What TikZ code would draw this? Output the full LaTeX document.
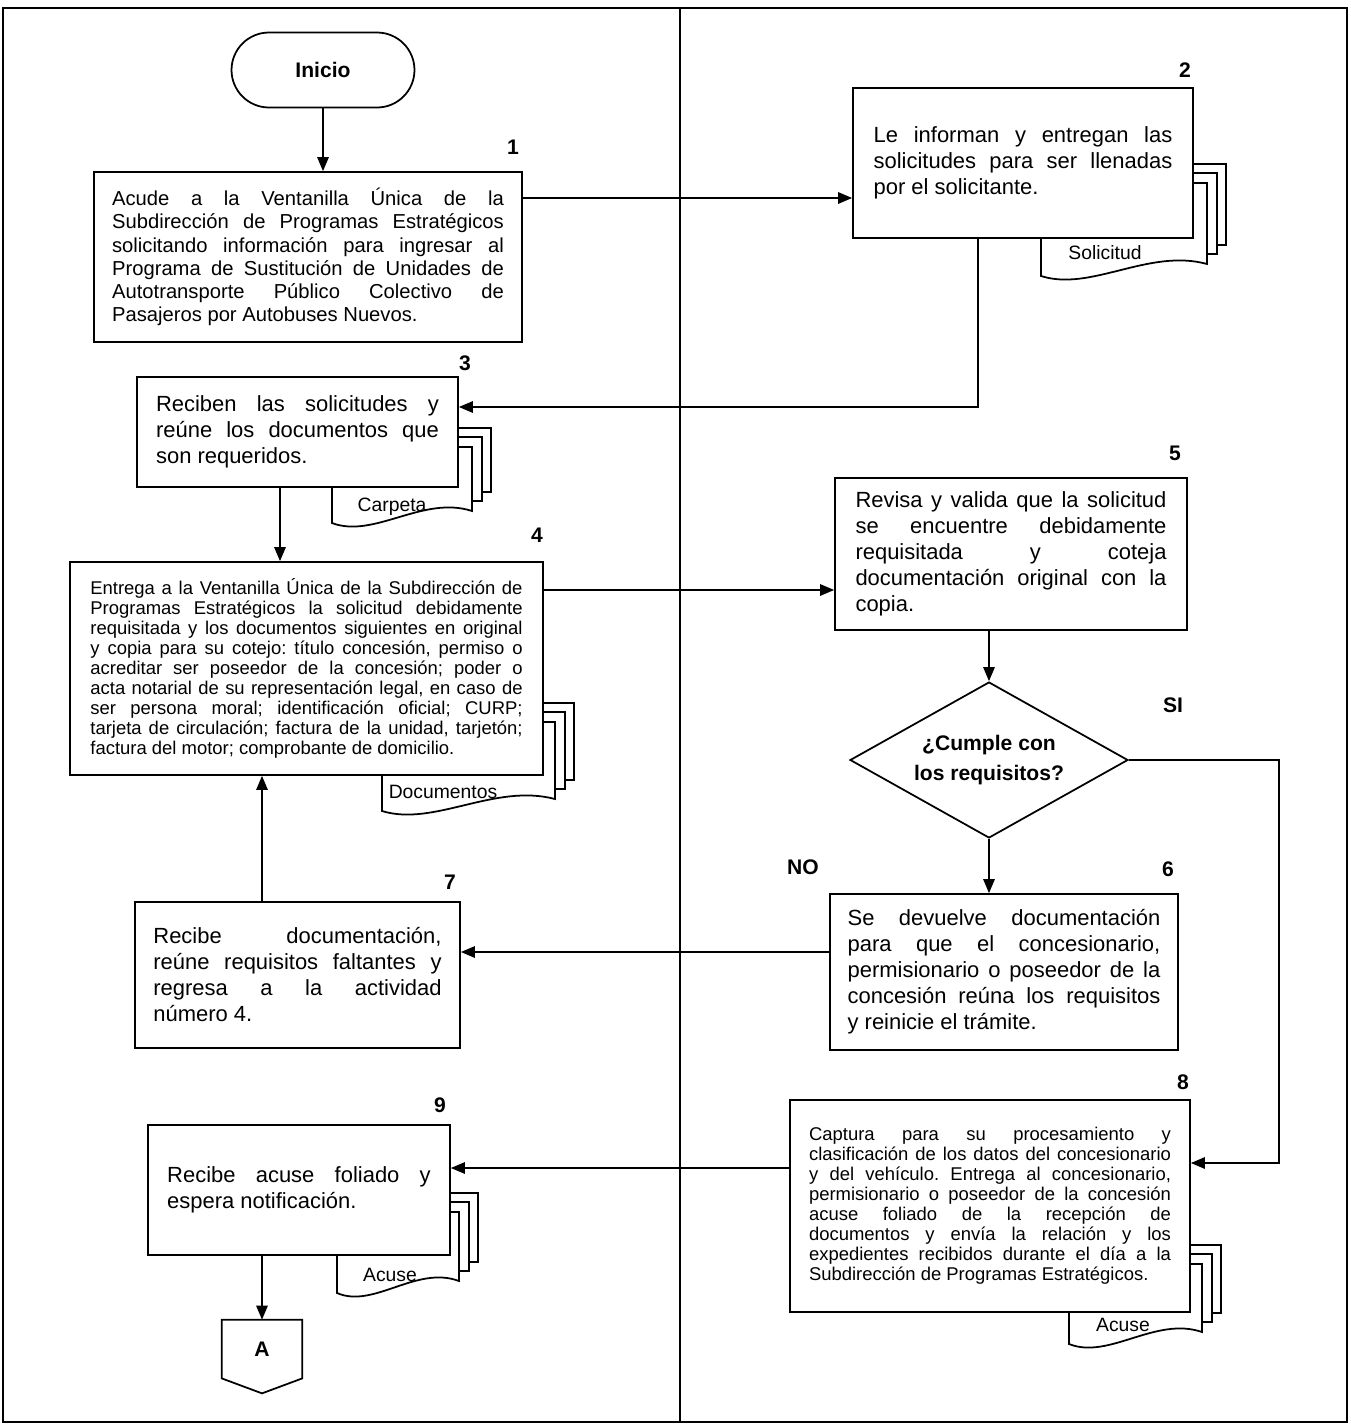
\documentclass[tikz,border=0pt]{standalone}
\usepackage{fontspec}
\setmainfont{Liberation Sans}
\usetikzlibrary{arrows.meta,shapes.geometric,shapes.misc,calc}

\tolerance=10000
\hbadness=10000
\hyphenpenalty=10000
\frenchspacing

% stack of three sheets behind a box: left, top, right, bottom (pixels)
\newcommand{\docstack}[4]{%
  \foreach \k in {19,10}{%
    \draw[sheet] ({#1+\k},{#2-\k}) rectangle ({#3+\k},{#4-12-\k});
  }
  \draw[sheet] (#1,#2) -- (#3,#2) -- (#3,{#4-12})
    .. controls ({#3-0.35*(#3-#1)},{#4-28}) and ({#1+0.3*(#3-#1)},{#4+16}) .. (#1,#4) -- cycle;
}

\tikzset{
  box/.style={draw, fill=white, line width=1pt, inner sep=0pt, align=justify},
  bigtext/.style={font=\fontsize{12.5}{14.8}\selectfont},
  midtext/.style={font=\fontsize{11.5}{13.2}\selectfont},
  smalltext/.style={font=\fontsize{10.5}{11.4}\selectfont},
  flow/.style={line width=1pt, -{Triangle[length=8pt,width=6.5pt]}},
  sheet/.style={draw, fill=white, line width=1pt},
  stepnum/.style={font=\fontsize{12}{14}\selectfont\bfseries},
  doclabel/.style={font=\fontsize{11}{13}\selectfont}
}

\begin{document}
\begin{tikzpicture}[x=0.02cm,y=-0.02cm]
  \useasboundingbox (0,0) rectangle (1350,1427);

  % frame and the two columns
  \draw[line width=0.8pt] (3,8) rectangle (1347,1422);
  \draw[line width=0.8pt] (680,8) -- (680,1422);

  % sheets behind the boxes
  \docstack{1041}{183}{1207}{276}
  \docstack{332}{447}{472}{523}
  \docstack{382}{722}{555}{811}
  \docstack{1069}{1264}{1202}{1344}
  \docstack{337}{1212}{459}{1293}

  \node[doclabel] (dsol) at (1105,253) {Solicitud};
  \node[doclabel] (dcarp) at (392,507) {Carpeta};
  \node[doclabel] (ddoc) at (443,792) {Documentos};
  \node[doclabel] (dacu8) at (1123,1325) {Acuse};
  \node[doclabel] (dacu9) at (390,1275) {Acuse};

  % boxes
  \node[draw, fill=white, line width=1pt, inner sep=0pt, rounded rectangle, minimum width=3.66cm,
    minimum height=1.5cm, font=\fontsize{12}{14}\selectfont\bfseries] (inicio) at (323,70) {Inicio};

  \node[box, midtext, text width=223pt, minimum width=8.56cm, minimum height=3.4cm] (b1) at (308,257)
    {Acude a la Ventanilla Única de la\linebreak Subdirección de Programas Estratégicos\linebreak
     solicitando información para ingresar al\linebreak Programa de Sustitución de Unidades de\linebreak
     Autotransporte Público Colectivo de\linebreak Pasajeros por Autobuses Nuevos.};

  \node[box, bigtext, text width=170pt, minimum width=6.8cm, minimum height=3cm] (b2) at (1023,163)
    {Le informan y entregan las\linebreak solicitudes para ser llenadas\linebreak por el solicitante.};

  \node[box, bigtext, text width=161pt, minimum width=6.42cm, minimum height=2.2cm] (b3) at (297.5,432)
    {Reciben las solicitudes y\linebreak reúne los documentos que\linebreak son requeridos.};

  \node[box, smalltext, text width=246pt, minimum width=9.46cm, minimum height=4.26cm] (b4) at (306.5,668.5)
    {Entrega a la Ventanilla Única de la Subdirección de\linebreak Programas Estratégicos la solicitud debidamente\linebreak
     requisitada y los documentos siguientes en original\linebreak y copia para su cotejo: título concesión, permiso o\linebreak
     acreditar ser poseedor de la concesión; poder o\linebreak acta notarial de su representación legal, en caso de\linebreak
     ser persona moral; identificación oficial; CURP;\linebreak tarjeta de circulación; factura de la unidad, tarjetón;\linebreak
     factura del motor; comprobante de domicilio.};

  \node[box, bigtext, text width=177pt, minimum width=7.04cm, minimum height=3.04cm] (b5) at (1011,554)
    {Revisa y valida que la solicitud\linebreak se encuentre debidamente\linebreak requisitada y coteja\linebreak
     documentación original con la\linebreak copia.};

  \node[diamond, aspect=1.8, draw, fill=white, line width=1pt, minimum width=5.56cm, minimum height=3.12cm,
    inner sep=0pt, align=center, font=\fontsize{12}{17}\selectfont\bfseries] (dia) at (989,760)
    {¿Cumple con\\los requisitos?};

  \node[box, bigtext, text width=178pt, minimum width=6.96cm, minimum height=3.12cm] (b6) at (1004,972)
    {Se devuelve documentación\linebreak para que el concesionario,\linebreak permisionario o poseedor de la\linebreak
     concesión reúna los requisitos\linebreak y reinicie el trámite.};

  \node[box, bigtext, text width=164pt, minimum width=6.5cm, minimum height=2.92cm] (b7) at (297.5,975)
    {Recibe documentación,\linebreak reúne requisitos faltantes y\linebreak regresa a la actividad\linebreak número 4.};

  \node[box, smalltext, text width=206pt, minimum width=8cm, minimum height=4.24cm] (b8) at (990,1206)
    {Captura para su procesamiento y\linebreak clasificación de los datos del concesionario\linebreak
     y del vehículo. Entrega al concesionario,\linebreak permisionario o poseedor de la concesión\linebreak
     acuse foliado de la recepción de\linebreak documentos y envía la relación y los\linebreak
     expedientes recibidos durante el día a la\linebreak Subdirección de Programas Estratégicos.};

  \node[box, bigtext, text width=150pt, minimum width=6.04cm, minimum height=2.6cm] (b9) at (299,1190)
    {Recibe acuse foliado y\linebreak espera notificación.};

  % off-page connector
  \node[minimum width=1.6cm, minimum height=1.16cm, inner sep=0pt,
    font=\fontsize{12}{14}\selectfont\bfseries] (cona) at (262,1349) {A};
  \draw[line width=1pt] (cona.north west) -- (cona.north east) -- (cona.south east)
    -- ($(cona.south)+(0,15)$) -- (cona.south west) -- cycle;

  % step numbers
  \node[stepnum] (n1) at (513,147) {1};
  \node[stepnum] (n2) at (1185,70) {2};
  \node[stepnum] (n3) at (465,363) {3};
  \node[stepnum] (n4) at (537,535) {4};
  \node[stepnum] (n5) at (1175,453) {5};
  \node[stepnum] (n6) at (1168,869) {6};
  \node[stepnum] (n7) at (450,882) {7};
  \node[stepnum] (n8) at (1183,1082) {8};
  \node[stepnum] (n9) at (440,1105) {9};
  \node[stepnum] (si) at (1173,705) {SI};
  \node[stepnum] (no) at (803,867) {NO};

  % connectors
  \coordinate (k12) at (700,198);
  \coordinate (k23) at (978,407);
  \coordinate (k34) at (280,520);
  \coordinate (k45) at (690,590);
  \coordinate (k58) at (1279,1163);
  \coordinate (k67) at (680,952);
  \coordinate (k74) at (262,850);
  \coordinate (k89) at (680,1168);

  \draw[flow] (inicio.south) -- (inicio.south |- b1.north);
  \draw[flow] (b1.east |- k12) -- (b2.west |- k12);
  \draw[flow] (b2.south -| k23) |- (b3.east |- k23);
  \draw[flow] (b3.south -| k34) -- (b4.north -| k34);
  \draw[flow] (b4.east |- k45) -- (b5.west |- k45);
  \draw[flow] (b5.south -| dia.north) -- (dia.north);
  \draw[flow] (dia.south) -- (dia.south |- b6.north);
  \draw[flow] (dia.east) -| (k58) -- (b8.east |- k58);
  \draw[flow] (b6.west |- k67) -- (b7.east |- k67);
  \draw[flow] (b7.north -| k74) -- (b4.south -| k74);
  \draw[flow] (b8.west |- k89) -- (b9.east |- k89);
  \draw[flow] (b9.south -| cona.north) -- (cona.north);
\end{tikzpicture}
\end{document}
